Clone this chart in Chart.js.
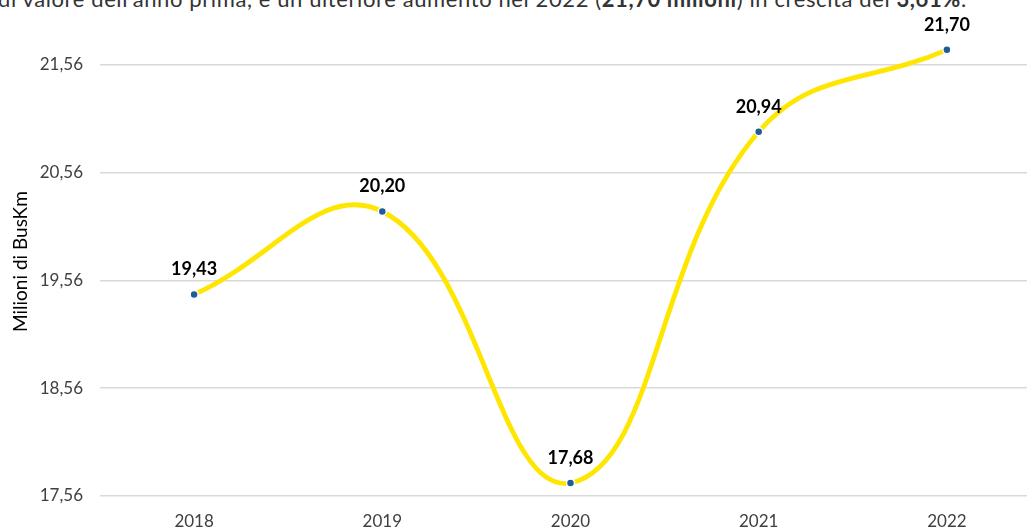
<!DOCTYPE html>
<html>
<head>
<meta charset="utf-8">
<script src="https://cdn.jsdelivr.net/npm/chart.js@4.4.0/dist/chart.umd.min.js"></script>
<style>
    body { margin: 0; background: #fff; overflow: hidden; width: 1027px; height: 529px; position: relative; }
    #note { position: absolute; left: -2px; top: -12px; white-space: nowrap; font-family: Lato, sans-serif; font-size: 22px; line-height: 22px; letter-spacing: 0.6px; color: #333; }
    #wrap { position: absolute; left: 0; top: 0; width: 1060px; height: 529px; }
</style>
</head>
<body>
<div id="note">di valore dell'anno prima, e un ulteriore aumento nel 2022 (<b>21,70 milioni</b>) in crescita del <b>3,61%</b>.</div>
<div id="wrap"><canvas id="canvas"></canvas></div>
<script>
    var anni = ["2018", "2019", "2020", "2021", "2022"];
    var busKm = [19.43, 20.20, 17.68, 20.94, 21.70];
    var yTicks = [17.56, 18.56, 19.56, 20.56, 21.56];
    var yMin = 17.56;
    var yMax = 21.91;

    /* virgola decimale */
    var fmt = function (v) {
        return v.toFixed(2).replace(".", ",");
    };

    var etichette = {
        id: "etichette",
        afterDatasetsDraw: function (chart) {
            var ctx = chart.ctx;
            var meta = chart.getDatasetMeta(0);
            ctx.save();
            ctx.font = "bold 18px Lato, sans-serif";
            ctx.fillStyle = "#000";
            ctx.textAlign = "center";
            ctx.textBaseline = "middle";
            meta.data.forEach(function (p, i) {
                ctx.fillText(fmt(busKm[i]), p.x, p.y - 25);
            });
            ctx.restore();
        }
    };

    var config = {
        type: "line",
        data: {
            labels: anni,
            datasets: [{
                data: busKm,
                borderColor: "#FFE600",
                borderWidth: 4.8,
                tension: 0.42,
                pointRadius: 4,
                pointBackgroundColor: "#1F5C99",
                pointBorderColor: "#fff",
                pointBorderWidth: 1.5
            }]
        },
        options: {
            responsive: true,
            maintainAspectRatio: false,
            animation: false,
            layout: { padding: { top: 10, right: 19, left: 0, bottom: 0 } },
            plugins: { legend: { display: false }, tooltip: { enabled: false } },
            scales: {
                x: {
                    offset: true,
                    grid: { display: false, drawTicks: false },
                    border: { display: false },
                    ticks: { color: "#404040", font: { family: "Lato", size: 17 }, padding: 15 },
                    afterFit: function (s) { s.height = 33; }
                },
                y: {
                    min: yMin,
                    max: yMax,
                    afterBuildTicks: function (s) {
                        s.ticks = yTicks.map(function (v) { return { value: v }; });
                    },
                    grid: { color: "#D9D9D9", lineWidth: 1.5, drawTicks: false },
                    border: { display: false },
                    ticks: {
                        color: "#404040",
                        font: { family: "Lato", size: 17 },
                        padding: 17,
                        callback: function (v) { return fmt(v); }
                    },
                    title: {
                        display: true,
                        text: "Milioni di BusKm",
                        color: "#000",
                        font: { family: "Lato", size: 19 },
                        padding: { top: 9, bottom: 0 }
                    },
                    afterFit: function (s) { s.width = 100; }
                }
            }
        },
        plugins: [etichette]
    };

    var ctx = document.getElementById("canvas").getContext("2d");
    new Chart(ctx, config);
</script>
</body>
</html>
